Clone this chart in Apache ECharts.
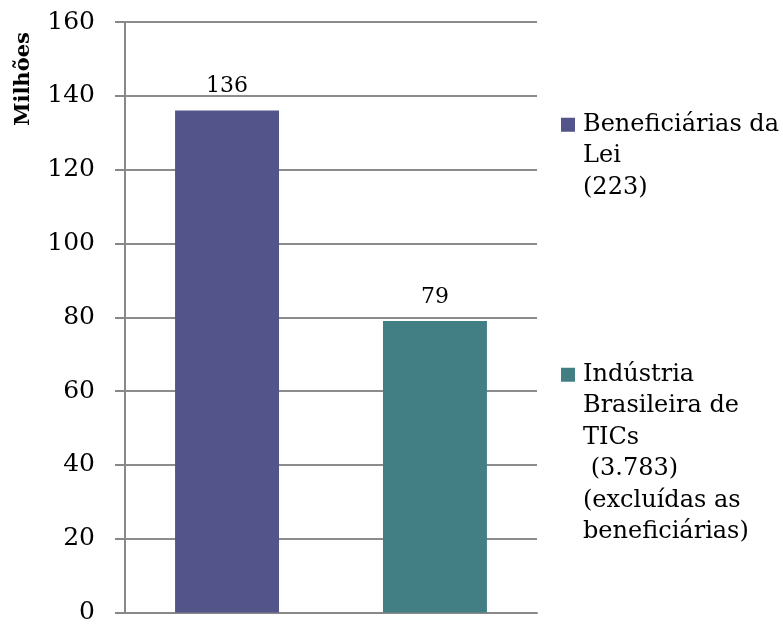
<!DOCTYPE html>
<html>
<head>
<meta charset="utf-8">
<script src="https://cdn.jsdelivr.net/npm/echarts@6/dist/echarts.min.js"></script>
<style>
  html, body { margin: 0; padding: 0; background: #fff; }
  #chart { width: 783px; height: 625px; }
</style>
</head>
<body>
<div id="chart"></div>
<script>
// dados
var categories = ['Empresas'];
var seriesNames = ['Beneficiárias da\nLei\n(223)', 'Indústria\nBrasileira de\nTICs\n (3.783)\n(excluídas as\nbeneficiárias)'];
var values = [136, 79];
var colors = ['#53548A', '#427F85'];
var yTicks = { min: 0, max: 160, interval: 20 };

var font = 'DejaVu Serif';
var lineH = 31.5;
var myChart = echarts.init(document.getElementById('chart'));

// legenda: quadrado alinhado com a primeira linha do texto
function legendFor(i, top, lines) {
    var h = lines * lineH;
    var y0 = lineH / 2 - 7, y1 = lineH / 2 + 7;
    var icon = 'path://M0,' + y0 + 'H14V' + y1 + 'H0Z' +
        'M0,0L0.01,0M17,' + h + 'L16.99,' + h;
    return {
        data: [{ name: seriesNames[i], icon: icon }],
        left: 561,
        top: top,
        padding: 0,
        itemWidth: 17,
        itemHeight: h,
        itemGap: 0,
        selectedMode: false,
        textStyle: {
            fontFamily: font,
            fontSize: 24,
            color: '#000',
            lineHeight: lineH
        }
    };
}

var series = seriesNames.map(function (name, i) {
    return {
        name: name,
        type: 'bar',
        data: [values[i]],
        barGap: '100%',
        barCategoryGap: '24.3%',
        itemStyle: { color: colors[i] },
        label: {
            show: true,
            position: 'top',
            distance: 13,
            fontFamily: font,
            fontSize: 22,
            color: '#000'
        }
    };
});

var option = {
    animation: false,
    grid: { left: 125, right: 246, top: 22, bottom: 11 },
    legend: [legendFor(0, 109, 3), legendFor(1, 359, 6)],
    xAxis: {
        type: 'category',
        data: categories,
        axisLabel: { show: false },
        axisTick: { show: false },
        axisLine: { lineStyle: { color: '#888', width: 2 } }
    },
    yAxis: {
        type: 'value',
        min: yTicks.min,
        max: yTicks.max,
        interval: yTicks.interval,
        axisLine: { show: true, lineStyle: { color: '#888', width: 2 } },
        axisTick: { show: true, length: 10, lineStyle: { color: '#888', width: 2 } },
        axisLabel: { margin: 30, fontFamily: font, fontSize: 25, color: '#000' },
        splitLine: { lineStyle: { color: '#8C8C8C', width: 2 } }
    },
    graphic: [{
        type: 'text',
        x: 24,
        y: 79,
        rotation: Math.PI / 2,
        style: {
            text: 'Milhões',
            fontFamily: font,
            fontWeight: 'bold',
            fontSize: 21,
            fill: '#000',
            align: 'center',
            verticalAlign: 'middle'
        }
    }],
    series: series
};
myChart.setOption(option);
</script>
</body>
</html>
